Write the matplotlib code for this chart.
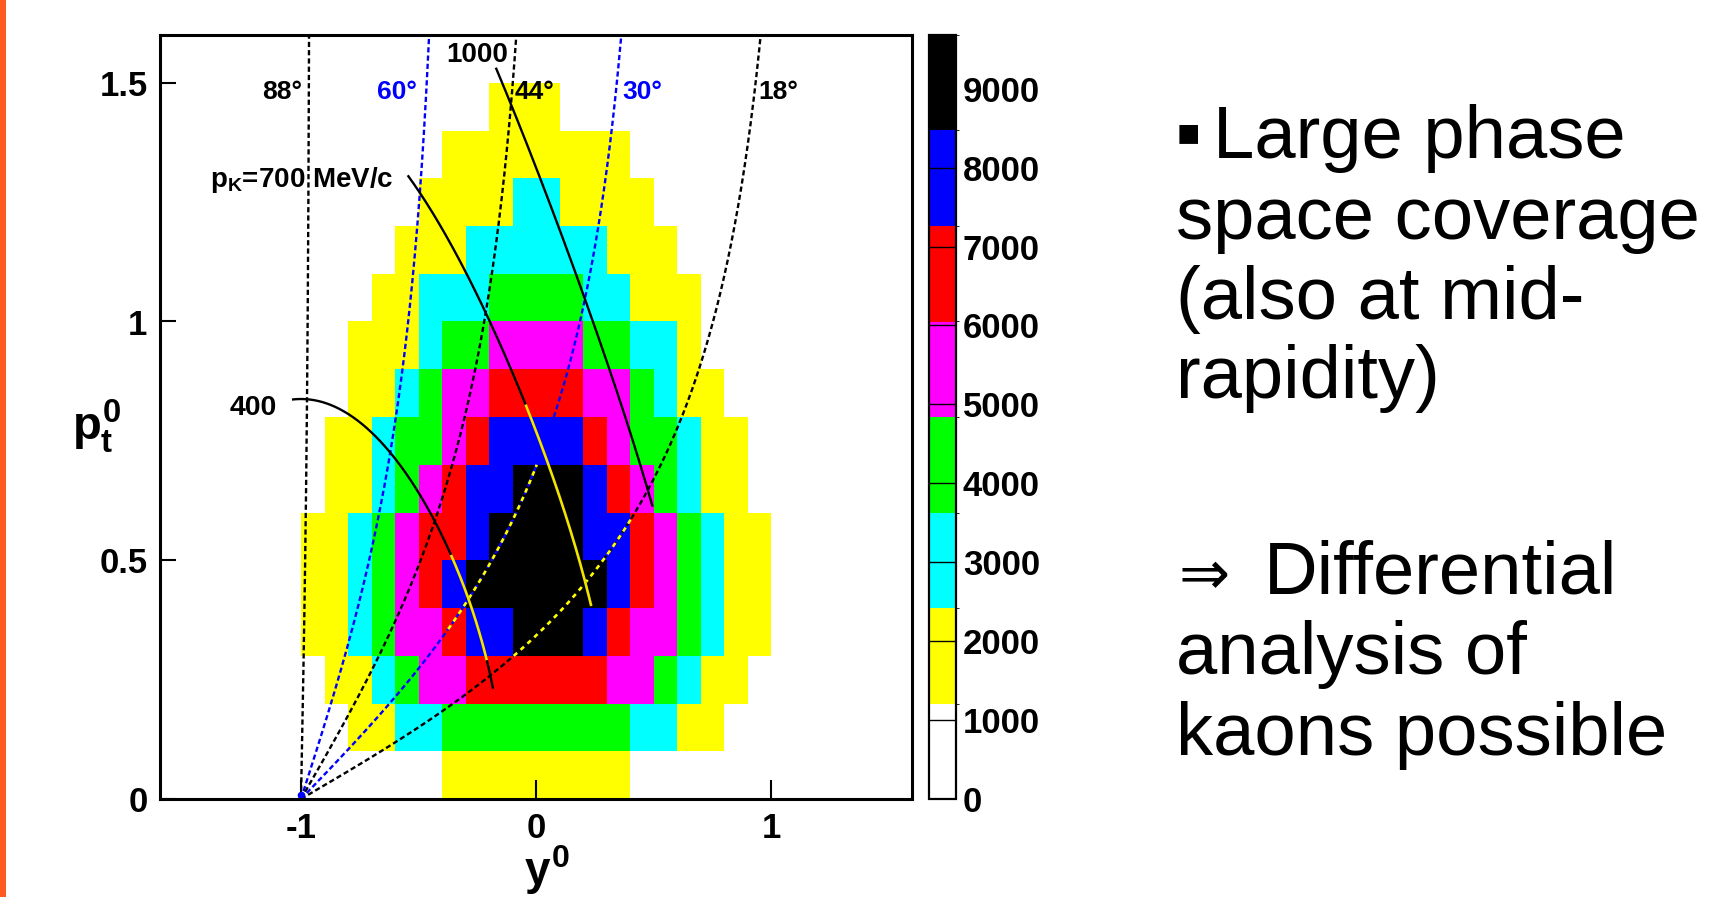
import numpy as np
import matplotlib as mpl
import matplotlib.pyplot as plt
from matplotlib.colors import ListedColormap, BoundaryNorm
from matplotlib.patches import Rectangle

plt.rcParams['font.family'] = ['Liberation Sans', 'DejaVu Sans']
plt.rcParams['mathtext.fontset'] = 'custom'
plt.rcParams['mathtext.rm'] = 'Liberation Sans:bold'
plt.rcParams['mathtext.it'] = 'Liberation Sans:bold'
plt.rcParams['mathtext.bf'] = 'Liberation Sans:bold'

W, H = 1711, 897

# kaon mass (GeV/c^2) and c.m. rapidity of the reaction
M_K = 0.4937
Y_CM = 0.858

# histogram binning: y0 (normalised rapidity) and pt0
y_edges = np.round(np.arange(-1.0, 1.0001, 0.1), 2)
pt_edges = np.round(np.arange(0.0, 1.5001, 0.1), 2)

# K+ counts per bin, rows = pt0 bins (0..1.5), cols = y0 bins (-1..1)
counts = np.array([
    [0, 0, 0, 0, 0, 0, 1800, 1800, 1800, 1800, 1800, 1800, 1800, 1800, 0, 0, 0, 0, 0, 0],
    [0, 0, 1800, 1800, 3000, 3000, 4200, 4200, 4200, 4200, 4200, 4200, 4200, 4200, 3000, 3000, 1800, 1800, 0, 0],
    [0, 1800, 1800, 3000, 4200, 5400, 5400, 6700, 6700, 6700, 6700, 6700, 6700, 5400, 5400, 4200, 3000, 1800, 1800, 0],
    [1800, 1800, 3000, 4200, 5400, 5400, 6700, 7900, 7900, 9200, 9200, 9200, 7900, 6700, 5400, 5400, 4200, 3000, 1800, 1800],
    [1800, 1800, 3000, 4200, 5400, 6700, 7900, 9200, 9200, 9200, 9200, 9200, 9200, 7900, 6700, 5400, 4200, 3000, 1800, 1800],
    [1800, 1800, 3000, 4200, 5400, 6700, 6700, 7900, 9200, 9200, 9200, 9200, 7900, 7900, 6700, 5400, 4200, 3000, 1800, 1800],
    [0, 1800, 1800, 3000, 4200, 5400, 6700, 7900, 7900, 9200, 9200, 9200, 7900, 6700, 5400, 4200, 3000, 1800, 1800, 0],
    [0, 1800, 1800, 3000, 4200, 4200, 5400, 6700, 7900, 7900, 7900, 7900, 6700, 5400, 4200, 4200, 3000, 1800, 1800, 0],
    [0, 0, 1800, 1800, 3000, 4200, 5400, 5400, 6700, 6700, 6700, 6700, 5400, 5400, 4200, 3000, 1800, 1800, 0, 0],
    [0, 0, 1800, 1800, 1800, 3000, 4200, 4200, 5400, 5400, 5400, 5400, 4200, 4200, 3000, 3000, 1800, 0, 0, 0],
    [0, 0, 0, 1800, 1800, 3000, 3000, 3000, 4200, 4200, 4200, 4200, 3000, 3000, 1800, 1800, 1800, 0, 0, 0],
    [0, 0, 0, 0, 1800, 1800, 1800, 3000, 3000, 3000, 3000, 3000, 3000, 1800, 1800, 1800, 0, 0, 0, 0],
    [0, 0, 0, 0, 0, 1800, 1800, 1800, 1800, 3000, 3000, 1800, 1800, 1800, 1800, 0, 0, 0, 0, 0],
    [0, 0, 0, 0, 0, 0, 1800, 1800, 1800, 1800, 1800, 1800, 1800, 1800, 0, 0, 0, 0, 0, 0],
    [0, 0, 0, 0, 0, 0, 0, 0, 1800, 1800, 1800, 0, 0, 0, 0, 0, 0, 0, 0, 0],
])

levels = np.linspace(0, 9680, 9)
palette = ['#FFFFFF', '#FFFF00', '#00FFFF', '#00FF00', '#FF00FF', '#FF0000', '#0000FF', '#000000']
cbar_ticks = list(range(0, 9001, 1000))

# lines of constant lab polar angle
theta_lines = [88, 60, 44, 30, 18]
theta_colors = ['black', 'blue', 'black', 'blue', 'black']
theta_label_x = [-0.996, -0.677, -0.089, 0.366, 0.945]
theta_label_ha = ['right', 'left', 'left', 'left', 'left']
# highlighted pieces of the angle lines (pt0 range)
theta_hilite = {30: (0.35, 0.70), 18: (0.295, 0.59)}

# lines of constant lab momentum (GeV/c), drawn between two lab angles
p_values = [0.4, 0.7, 1.0]
p_theta_span = [(93, 16), (63, 16), (47, 17)]
p_hilite = [(37.6, 20.3), (34.3, 16), None]


def pt_scale():
    return M_K * np.sinh(Y_CM)


def angle_line(theta, pt0):
    pt = pt0 * pt_scale()
    pz = pt / np.tan(np.radians(theta))
    mt = np.sqrt(M_K ** 2 + pt ** 2)
    return np.arcsinh(pz / mt) / Y_CM - 1.0


def momentum_line(p, th_from, th_to, n=300):
    th = np.radians(np.linspace(th_from, th_to, n))
    pt = p * np.sin(th)
    pz = p * np.cos(th)
    mt = np.sqrt(M_K ** 2 + pt ** 2)
    y0 = np.arcsinh(pz / mt) / Y_CM - 1.0
    return y0, pt / pt_scale()


fig = plt.figure(figsize=(W / 100, H / 100), dpi=100)
fig.add_artist(Rectangle((0, 0), 6 / W, 1, transform=fig.transFigure,
                         color='#FF5A1F', lw=0))

ax = fig.add_axes([160 / W, 1 - 799 / H, 752 / W, 764 / H])
cmap = ListedColormap(palette)
norm = BoundaryNorm(levels, cmap.N)
ax.pcolormesh(y_edges, pt_edges, np.ma.masked_less_equal(counts, 0),
              cmap=cmap, norm=norm, shading='flat', antialiased=False, lw=0)

# constant angle lines
pt0 = np.linspace(0, 1.6, 500)
for th, col, lx, ha in zip(theta_lines, theta_colors, theta_label_x, theta_label_ha):
    ax.plot(angle_line(th, pt0), pt0, color=col, lw=1.7,
            linestyle=(0, (2.2, 1.3)), zorder=3)
    if th in theta_hilite:
        lo, hi = theta_hilite[th]
        seg = np.linspace(lo, hi, 100)
        ax.plot(angle_line(th, seg), seg, color='#FFFF00', lw=1.9,
                linestyle=(2.2, (1.75, 1.75)), zorder=4)
    ax.text(lx, 1.465, f'{th}°', color=col, fontsize=19, fontweight='bold',
            ha=ha, va='baseline', zorder=6)

# constant momentum lines
for p, (t0, t1), hl in zip(p_values, p_theta_span, p_hilite):
    yy, pp = momentum_line(p, t0, t1)
    ax.plot(yy, pp, color='black', lw=1.7, zorder=5, solid_capstyle='butt')
    if hl is not None:
        yy, pp = momentum_line(p, hl[0], hl[1])
        ax.plot(yy, pp, color='#F2E400', lw=1.9, zorder=5, solid_capstyle='butt')

ax.text(-0.383, 1.543, '1000', fontsize=20, fontweight='bold', ha='left', va='baseline')
ax.text(-1.387, 1.281, r'p$_{\mathregular{K}}$=700 MeV/c', fontsize=20, fontweight='bold',
        ha='left', va='baseline')
ax.text(-1.302, 0.805, '400', fontsize=20.5, fontweight='bold', ha='left', va='baseline')

ax.plot([-1.0], [0.008], marker='o', ms=4.5, color='blue', clip_on=False, zorder=7)

ax.set_xlim(-1.6, 1.6)
ax.set_ylim(0, 1.6)
ax.set_xticks([-1, 0, 1])
ax.set_xticklabels(['-1', '0', '1'], fontsize=25, fontweight='bold')
ax.set_yticks([0, 0.5, 1, 1.5])
ax.set_yticklabels(['0', '0.5', '1', '1.5'], fontsize=25, fontweight='bold')
ax.tick_params(axis='x', direction='in', length=13.5, width=1.5, pad=9, top=False)
ax.tick_params(axis='y', direction='in', length=11.5, width=1.5, pad=9, right=False)
for s in ax.spines.values():
    s.set_linewidth(2.2)
    s.set_zorder(8)

fig.text(72 / W, 1 - 440 / H, r'$p_{t}^{0}$', fontsize=34, va='baseline')
fig.text(524 / W, 1 - 885 / H, r'$y^{0}$', fontsize=33, va='baseline')

# colour scale
cax = fig.add_axes([929 / W, 1 - 799 / H, 27 / W, 764 / H])
cb = fig.colorbar(mpl.cm.ScalarMappable(norm=norm, cmap=cmap), cax=cax,
                  boundaries=levels, ticks=cbar_ticks)
cb.set_ticklabels([str(t) for t in cbar_ticks])
cb.outline.set_linewidth(1.6)
cax.set_ylim(levels[0], levels[-1])
cax.tick_params(length=0, labelsize=25, pad=5)
for lbl in cax.get_yticklabels():
    lbl.set_fontweight('bold')
for t in cbar_ticks[1:-1]:
    cax.axhline(t, color='black', lw=1.0)

# bullet text on the right
txt = dict(fontsize=53.5, va='baseline', ha='left', color='black')
fig.text(1176 / W, 1 - 143 / H, '▪', fontsize=27, va='baseline', ha='left',
         family=['DejaVu Sans'])
fig.text(1213 / W, 1 - 158 / H, 'Large phase', **txt)
fig.text(1176 / W, 1 - 239 / H, 'space coverage', **txt)
fig.text(1176 / W, 1 - 319 / H, '(also at mid-', **txt)
fig.text(1176 / W, 1 - 398 / H, 'rapidity)', **txt)

fig.text(1178 / W, 1 - 594 / H, '⇒', fontsize=44, va='baseline', ha='left',
         family=['DejaVu Sans'])
fig.text(1264 / W, 1 - 594 / H, 'Differential', **txt)
fig.text(1176 / W, 1 - 674 / H, 'analysis of', **txt)
fig.text(1176 / W, 1 - 755 / H, 'kaons possible', **txt)

fig.savefig('out.png', dpi=100)
